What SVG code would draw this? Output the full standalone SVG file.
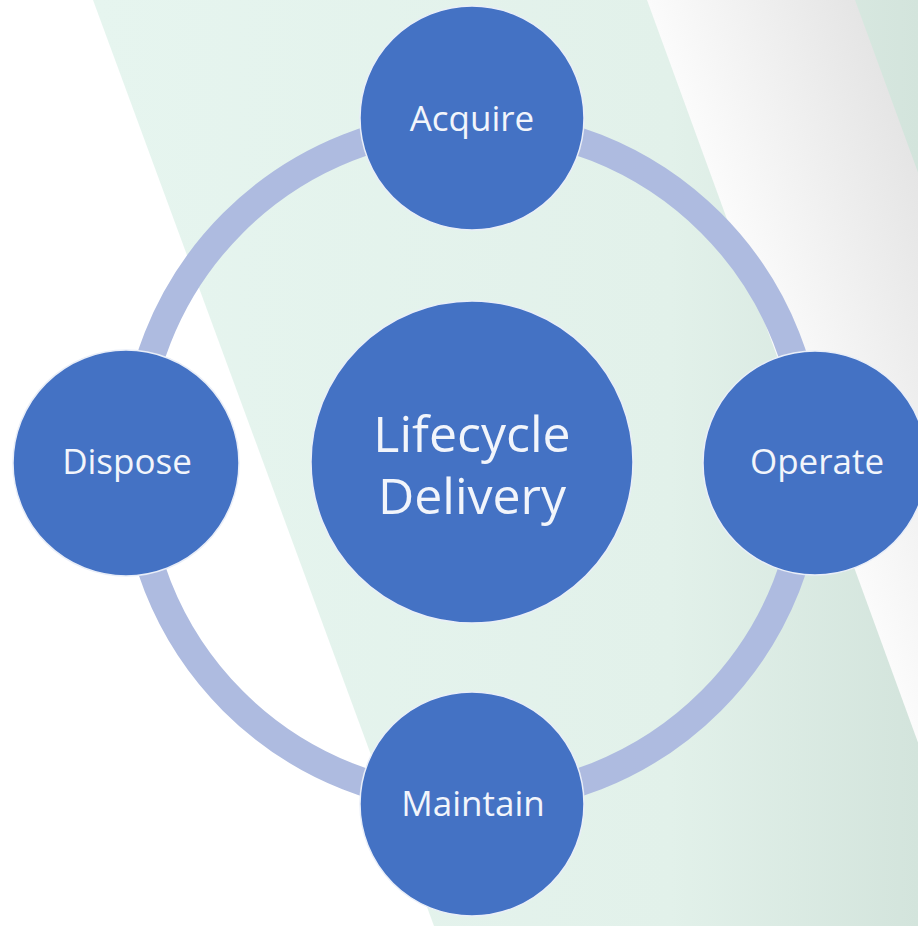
<svg xmlns="http://www.w3.org/2000/svg" width="918" height="926" viewBox="0 0 918 926">
  <defs>
    <linearGradient id="greenGrad" gradientUnits="userSpaceOnUse" x1="93" y1="0" x2="918" y2="0">
      <stop offset="0" stop-color="#e6f5ef"/>
      <stop offset="0.7" stop-color="#e2f1ea"/>
      <stop offset="1" stop-color="#d3e4dc"/>
    </linearGradient>
    <linearGradient id="greyGrad" gradientUnits="userSpaceOnUse" x1="647" y1="0" x2="830" y2="-67">
      <stop offset="0" stop-color="#fbfbfb"/>
      <stop offset="1" stop-color="#e5e5e5"/>
    </linearGradient>
  </defs>
  <style>
    .node { fill: #4472c4; stroke: #e9eef8; stroke-width: 1.5; }
    .label { fill: #f2f5fb; font-family: "Open Sans", "Noto Sans", sans-serif; text-anchor: middle; }
    .small { font-size: 35px; }
    .big { font-size: 50px; }
    .ring { fill: none; stroke: #aebbe0; stroke-width: 28; }
  </style>

  <g id="background">
    <rect x="0" y="0" width="918" height="926" fill="#ffffff"/>
    <polygon points="93,0 918,0 918,926 434,926" fill="url(#greenGrad)"/>
    <polygon points="647,0 855,0 1193,926 985,926" fill="url(#greyGrad)"/>
  </g>

  <g id="connectors">
    <circle class="ring" cx="472" cy="462" r="338"/>
  </g>

  <g id="node-center">
    <circle class="node" cx="472" cy="462" r="161"/>
    <text class="label big" x="472" y="452">Lifecycle</text>
    <text class="label big" x="472" y="514">Delivery</text>
  </g>

  <g id="node-acquire">
    <circle class="node" cx="472" cy="118" r="112"/>
    <text class="label small" x="472" y="131">Acquire</text>
  </g>

  <g id="node-operate">
    <circle class="node" cx="815" cy="463" r="112"/>
    <text class="label small" x="817" y="474">Operate</text>
  </g>

  <g id="node-maintain">
    <circle class="node" cx="472" cy="804" r="112"/>
    <text class="label small" x="473" y="816">Maintain</text>
  </g>

  <g id="node-dispose">
    <circle class="node" cx="126" cy="463" r="113"/>
    <text class="label small" x="127" y="474">Dispose</text>
  </g>
</svg>
